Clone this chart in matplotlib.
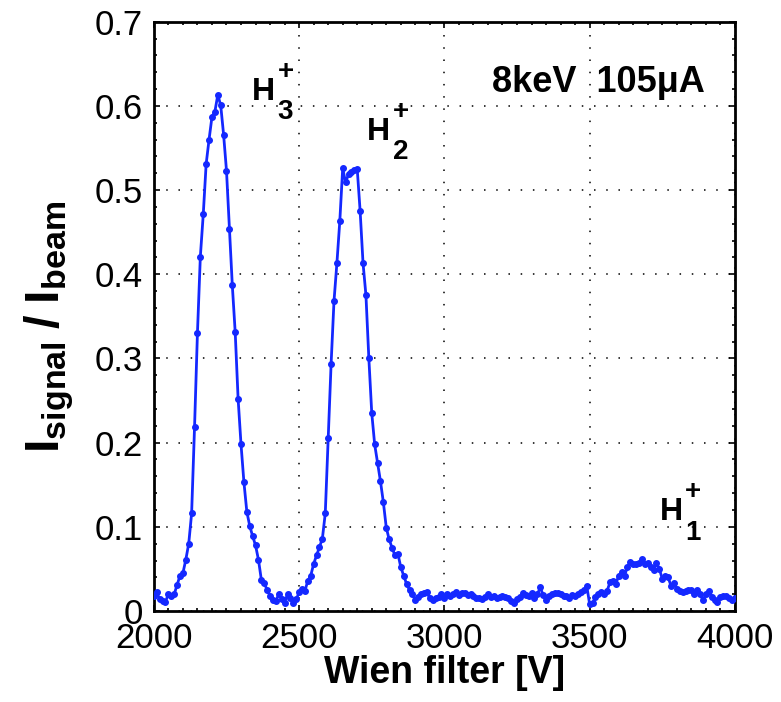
import numpy as np
import matplotlib
matplotlib.use("Agg")
import matplotlib.pyplot as plt
from matplotlib.ticker import MultipleLocator
from matplotlib.transforms import offset_copy

plt.rcParams['font.family'] = ['Liberation Sans', 'DejaVu Sans']
plt.rcParams['mathtext.fontset'] = 'custom'
plt.rcParams['mathtext.rm'] = 'Liberation Sans'
plt.rcParams['mathtext.bf'] = 'Liberation Sans:bold'
plt.rcParams['mathtext.it'] = 'Liberation Sans:italic'

# ---- data: Wien filter voltage sweep, 10 V steps from 2000 V to 4000 V ----
v_start, v_stop, v_step = 2000, 4000, 10

# 2000 .. 2500 V  (H3+ peak)
signal_h3 = [0.018, 0.022, 0.014, 0.012, 0.011, 0.020, 0.018, 0.020, 0.031, 0.042,
             0.045, 0.061, 0.080, 0.116, 0.218, 0.330, 0.421, 0.471, 0.531, 0.560,
             0.587, 0.593, 0.613, 0.601, 0.566, 0.523, 0.454, 0.387, 0.331, 0.252,
             0.198, 0.153, 0.118, 0.101, 0.089, 0.078, 0.061, 0.037, 0.033, 0.025,
             0.018, 0.013, 0.012, 0.020, 0.014, 0.010, 0.020, 0.016, 0.009, 0.014,
             0.022]
# 2510 .. 3000 V  (H2+ peak)
signal_h2 = [0.026, 0.024, 0.036, 0.042, 0.056, 0.066, 0.076, 0.086, 0.116, 0.205,
             0.293, 0.368, 0.413, 0.463, 0.526, 0.509, 0.519, 0.522, 0.524, 0.525,
             0.475, 0.413, 0.375, 0.300, 0.235, 0.198, 0.176, 0.154, 0.129, 0.099,
             0.085, 0.075, 0.066, 0.068, 0.052, 0.042, 0.032, 0.025, 0.020, 0.013,
             0.017, 0.020, 0.021, 0.022, 0.015, 0.013, 0.015, 0.017, 0.020, 0.015]
# 3010 .. 3500 V  (background)
signal_bg = [0.020, 0.018, 0.020, 0.022, 0.019, 0.021, 0.021, 0.019, 0.020, 0.018,
             0.016, 0.015, 0.014, 0.017, 0.020, 0.017, 0.018, 0.016, 0.017, 0.018,
             0.017, 0.015, 0.012, 0.009, 0.014, 0.017, 0.021, 0.019, 0.018, 0.021,
             0.016, 0.020, 0.028, 0.019, 0.013, 0.018, 0.020, 0.021, 0.021, 0.020,
             0.018, 0.018, 0.016, 0.019, 0.018, 0.020, 0.022, 0.025, 0.030, 0.008]
# 3510 .. 4000 V  (H1+ peak)
signal_h1 = [0.009, 0.017, 0.020, 0.022, 0.020, 0.024, 0.034, 0.036, 0.032, 0.042,
             0.046, 0.042, 0.052, 0.058, 0.056, 0.056, 0.057, 0.062, 0.056, 0.057,
             0.052, 0.049, 0.057, 0.050, 0.038, 0.042, 0.040, 0.030, 0.033, 0.026,
             0.024, 0.022, 0.024, 0.025, 0.025, 0.020, 0.025, 0.020, 0.013, 0.020,
             0.024, 0.017, 0.013, 0.011, 0.017, 0.018, 0.018, 0.015, 0.013, 0.015]

signal = np.array(signal_h3 + signal_h2 + signal_bg + signal_h1)
voltage = np.arange(v_start, v_stop + v_step, v_step)[:len(signal)]

x_ticks = [2000, 2500, 3000, 3500, 4000]
y_ticks = [0, 0.1, 0.2, 0.3, 0.4, 0.5, 0.6, 0.7]

# ---- figure ----
fig = plt.figure(figsize=(7.81, 7.02), dpi=100)
ax = fig.add_axes([0.197, 0.1296, 0.744, 0.8395])

ax.plot(voltage, signal, color='#1428ff', lw=2.0, marker='.', ms=8, zorder=3)

ax.set_xlim(2000, 4000)
ax.set_ylim(0, 0.7)
ax.set_xticks(x_ticks)
ax.set_yticks(y_ticks)
ax.set_xticklabels([str(t) for t in x_ticks])
ax.set_yticklabels(['0' if t == 0 else f'{t:.1f}' for t in y_ticks])
ax.xaxis.set_minor_locator(MultipleLocator(50))
ax.yaxis.set_minor_locator(MultipleLocator(0.02))

ax.tick_params(which='both', direction='in', top=True, right=True, width=1.2, colors='black')
ax.tick_params(which='major', length=4, labelsize=25)
ax.tick_params(axis='y', which='major', pad=8)
ax.tick_params(axis='x', which='major', pad=8)
ax.tick_params(which='minor', length=2.5)
for s in ax.spines.values():
    s.set_linewidth(2)

ax.grid(True, which='major', color='black', linestyle=(0, (1, 7)), linewidth=1.1)
ax.set_axisbelow(True)

ax.set_xlabel('Wien filter [V]', fontsize=27, fontweight='bold', labelpad=0)
ax.set_ylabel(r'$\mathbf{I_{signal}\;/\;I_{beam}}$', fontsize=35)
ax.yaxis.set_label_coords(-0.134, 0.482)

# annotations
ax.text(3163, 0.616, '8keV  105\u03bcA', fontsize=26, fontweight='bold',
        ha='left', va='baseline')


def ion_label(x, y, sub):
    ax.text(x, y, 'H', fontsize=23, fontweight='bold', ha='left', va='baseline')
    t_sup = offset_copy(ax.transData, fig=fig, x=18.5, y=20, units='points')
    ax.text(x, y, '+', fontsize=20, fontweight='bold', ha='left', va='center',
            transform=t_sup)
    t_sub = offset_copy(ax.transData, fig=fig, x=18.5, y=-14, units='points')
    ax.text(x, y, sub, fontsize=20, fontweight='bold', ha='left', va='baseline',
            transform=t_sub)


ion_label(2338, 0.607, '3')
ion_label(2734, 0.560, '2')
ion_label(3740, 0.108, '1')

fig.savefig('out.png', dpi=100)
